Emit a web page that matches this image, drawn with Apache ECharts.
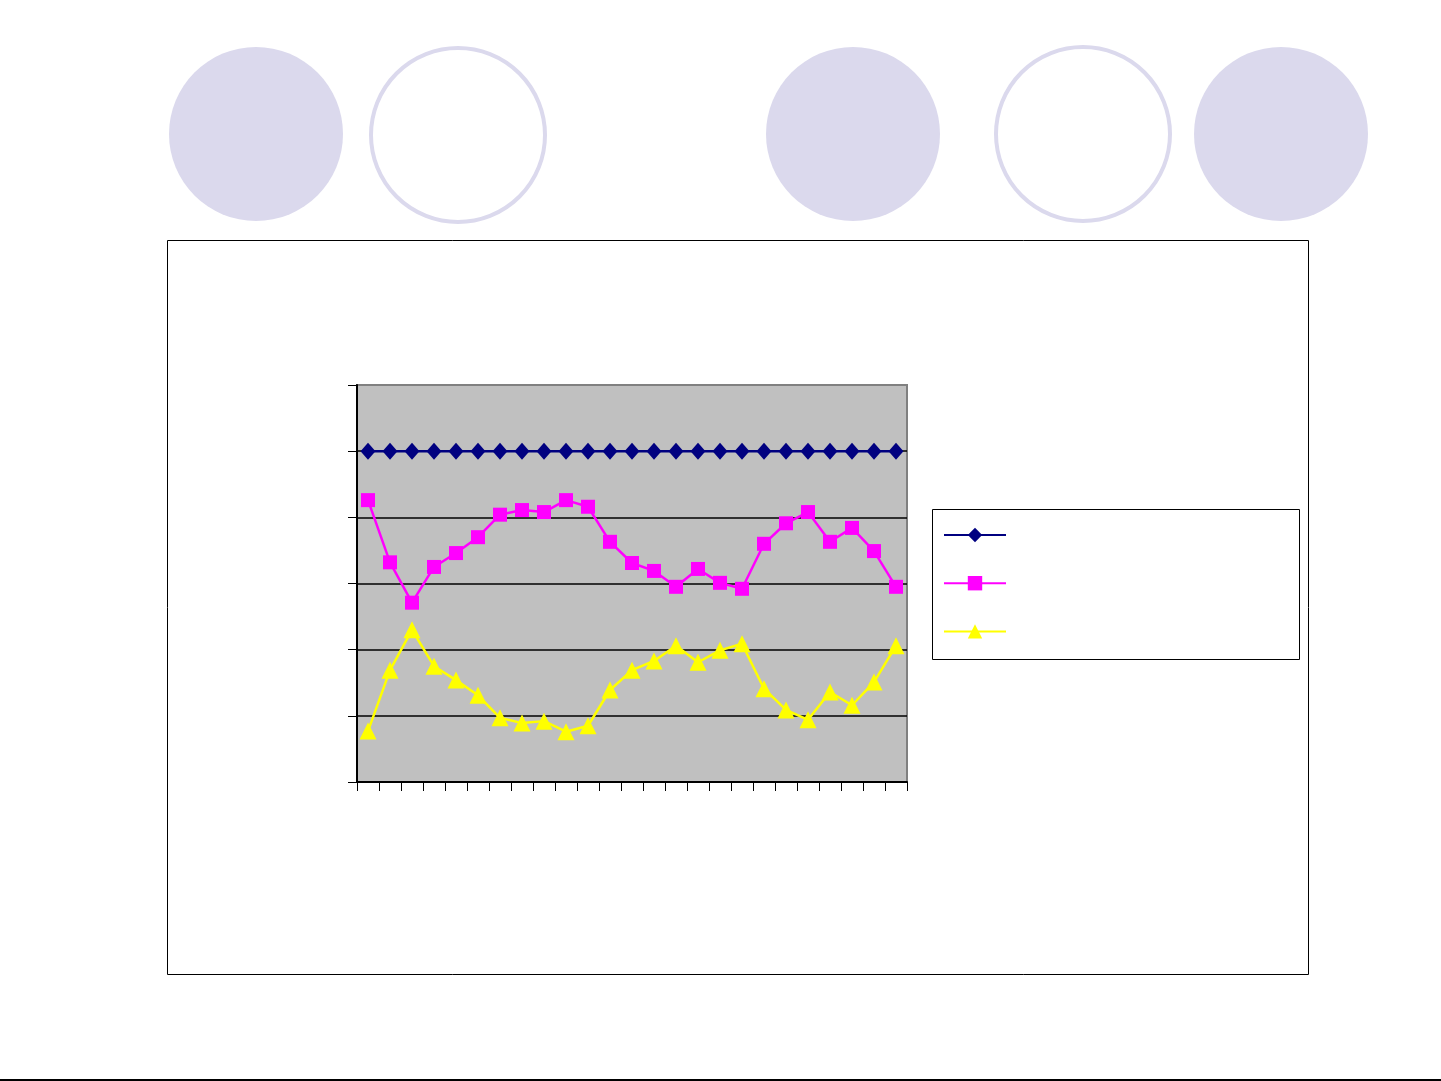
<!DOCTYPE html>
<html>
<head>
<meta charset="utf-8">
<script src="https://cdn.jsdelivr.net/npm/echarts@6/dist/echarts.min.js"></script>
<style>
html,body{margin:0;padding:0;background:#fff;}
#main{width:1441px;height:1081px;}
</style>
</head>
<body>
<div id="main"></div>
<script>
const categories = ['1','2','3','4','5','6','7','8','9','10','11','12','13','14','15','16','17','18','19','20','21','22','23','24','25'];
const seriesNames = ['A', 'B', 'C'];
const blueValues = [5,5,5,5,5,5,5,5,5,5,5,5,5,5,5,5,5,5,5,5,5,5,5,5,5];
const pinkValues = [4.26,3.32,2.71,3.25,3.46,3.70,4.04,4.11,4.08,4.26,4.16,3.63,3.31,3.19,2.95,3.22,3.01,2.92,3.60,3.91,4.08,3.63,3.84,3.49,2.95];
const yellowValues = [0.77,1.69,2.30,1.75,1.54,1.31,0.97,0.89,0.92,0.76,0.85,1.39,1.69,1.83,2.06,1.81,1.99,2.09,1.41,1.09,0.94,1.36,1.16,1.51,2.06];
const yMin = 0, yMax = 6, yInterval = 1;

const chart = echarts.init(document.getElementById('main'), null, {renderer: 'canvas'});
const lav = '#DBD9ED';
chart.setOption({
  animation: false,
  backgroundColor: '#ffffff',
  graphic: [
    {type: 'circle', shape: {cx: 256, cy: 134, r: 87}, style: {fill: lav}, z: -10},
    {type: 'circle', shape: {cx: 458, cy: 135, r: 87}, style: {fill: 'none', stroke: lav, lineWidth: 4}, z: -10},
    {type: 'circle', shape: {cx: 853, cy: 134, r: 87}, style: {fill: lav}, z: -10},
    {type: 'circle', shape: {cx: 1083, cy: 134, r: 87}, style: {fill: 'none', stroke: lav, lineWidth: 4}, z: -10},
    {type: 'circle', shape: {cx: 1281, cy: 134, r: 87}, style: {fill: lav}, z: -10},
    {type: 'rect', shape: {x: 167.5, y: 240.5, width: 1141, height: 734}, style: {fill: 'none', stroke: '#000', lineWidth: 1}, z: -10},
    {type: 'rect', shape: {x: 932.5, y: 509.5, width: 367, height: 150}, style: {fill: '#fff', stroke: '#000', lineWidth: 1}, z: -5},
    {type: 'line', shape: {x1: 0, y1: 1080, x2: 1441, y2: 1080}, style: {stroke: '#000', lineWidth: 2}, z: -10}
  ],
  grid: {
    left: 357, top: 385, right: 534, bottom: 299,
    show: true, backgroundColor: '#C0C0C0', borderColor: '#808080', borderWidth: 2
  },
  legend: {
    orient: 'vertical',
    left: 943, top: 526,
    itemWidth: 62, itemHeight: 18,
    itemGap: 32,
    padding: 0,
    formatter: function () { return ''; },
    textStyle: {fontSize: 12},
    data: seriesNames,
    z: 10
  },
  xAxis: {
    type: 'category',
    data: categories,
    boundaryGap: true,
    axisLine: {show: true, lineStyle: {color: '#000', width: 2}},
    axisTick: {show: true, alignWithLabel: false, interval: 0, length: 9, lineStyle: {color: '#000', width: 1}},
    axisLabel: {show: false},
    splitLine: {show: false}
  },
  yAxis: {
    type: 'value',
    min: yMin, max: yMax, interval: yInterval,
    axisLine: {show: true, lineStyle: {color: '#000', width: 2}},
    axisTick: {show: true, length: 9, lineStyle: {color: '#000', width: 1}},
    axisLabel: {show: false},
    splitLine: {show: true, lineStyle: {color: ['#000', '#000', '#000', '#000', '#000', '#000', '#808080'], width: 1.5}}
  },
  series: [
    {
      name: seriesNames[0], type: 'line', data: blueValues,
      symbol: 'diamond', symbolSize: [15, 17], showAllSymbol: true,
      lineStyle: {color: '#000080', width: 2.5},
      itemStyle: {color: '#000080'},
      z: 3
    },
    {
      name: seriesNames[1], type: 'line', data: pinkValues,
      symbol: 'rect', symbolSize: 14, showAllSymbol: true,
      lineStyle: {color: '#FF00FF', width: 2.5},
      itemStyle: {color: '#FF00FF'},
      z: 3
    },
    {
      name: seriesNames[2], type: 'line', data: yellowValues,
      symbol: 'triangle', symbolSize: [17, 17], showAllSymbol: true,
      lineStyle: {color: '#FFFF00', width: 2.5},
      itemStyle: {color: '#FFFF00'},
      z: 3
    }
  ]
});
</script>
</body>
</html>
